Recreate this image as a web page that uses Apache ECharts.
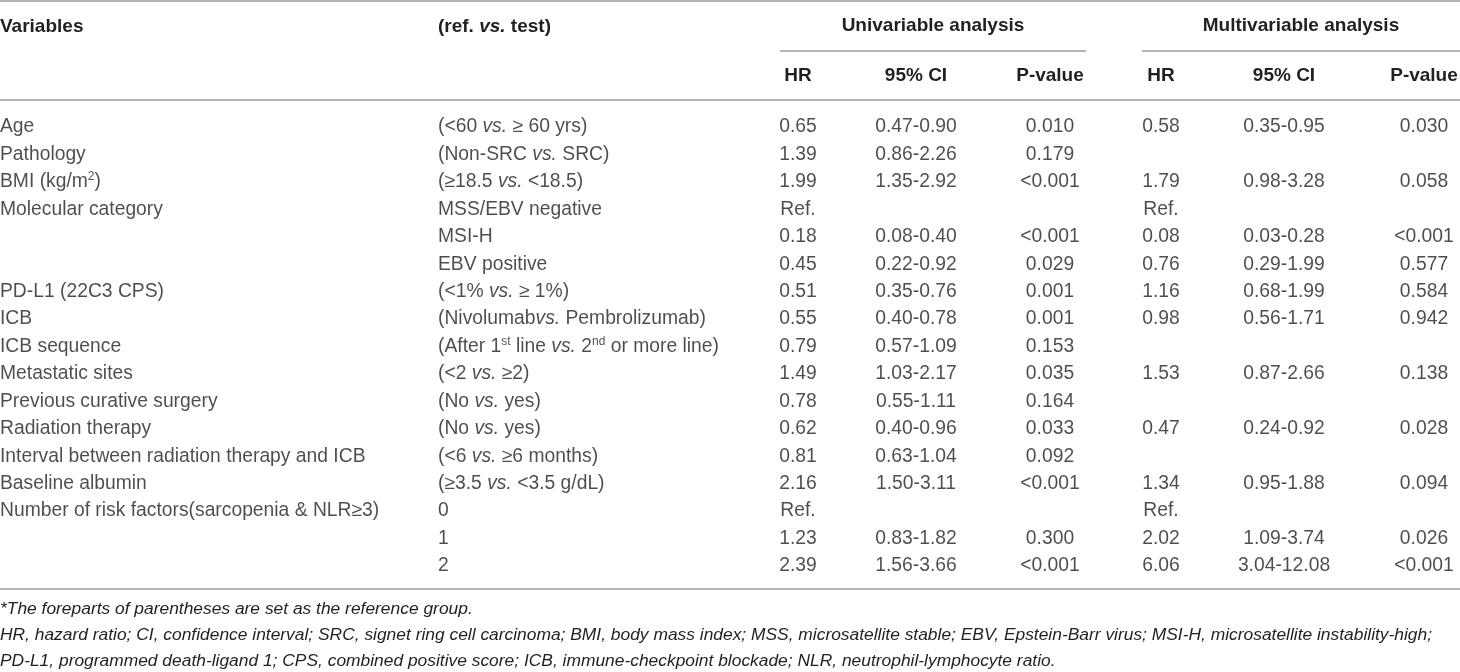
<!DOCTYPE html>
<html>
<head>
<meta charset="utf-8">
<script src="https://cdn.jsdelivr.net/npm/echarts@6/dist/echarts.min.js"></script>
<style>
html,body{margin:0;padding:0;background:#fff;}
#chart{width:1460px;height:672px;}
</style>
</head>
<body>
<div id="chart"></div>
<script>
// ---------- DATA ----------
const variables = ["Age","Pathology","BMI (kg/m^2)","Molecular category","","","PD-L1 (22C3 CPS)","ICB","ICB sequence","Metastatic sites","Previous curative surgery","Radiation therapy","Interval between radiation therapy and ICB","Baseline albumin","Number of risk factors(sarcopenia & NLR≥3)","",""];
const comparisons = ["(<60 vs. ≥ 60 yrs)","(Non-SRC vs. SRC)","(≥18.5 vs. <18.5)","MSS/EBV negative","MSI-H","EBV positive","(<1% vs. ≥ 1%)","(Nivolumabvs. Pembrolizumab)","(After 1^st line vs. 2^nd or more line)","(<2 vs. ≥2)","(No vs. yes)","(No vs. yes)","(<6 vs. ≥6 months)","(≥3.5 vs. <3.5 g/dL)","0","1","2"];
const uniHR = ["0.65","1.39","1.99","Ref.","0.18","0.45","0.51","0.55","0.79","1.49","0.78","0.62","0.81","2.16","Ref.","1.23","2.39"];
const uniCI = ["0.47-0.90","0.86-2.26","1.35-2.92","","0.08-0.40","0.22-0.92","0.35-0.76","0.40-0.78","0.57-1.09","1.03-2.17","0.55-1.11","0.40-0.96","0.63-1.04","1.50-3.11","","0.83-1.82","1.56-3.66"];
const uniP = ["0.010","0.179","<0.001","","<0.001","0.029","0.001","0.001","0.153","0.035","0.164","0.033","0.092","<0.001","","0.300","<0.001"];
const multiHR = ["0.58","","1.79","Ref.","0.08","0.76","1.16","0.98","","1.53","","0.47","","1.34","Ref.","2.02","6.06"];
const multiCI = ["0.35-0.95","","0.98-3.28","","0.03-0.28","0.29-1.99","0.68-1.99","0.56-1.71","","0.87-2.66","","0.24-0.92","","0.95-1.88","","1.09-3.74","3.04-12.08"];
const multiP = ["0.030","","0.058","","<0.001","0.577","0.584","0.942","","0.138","","0.028","","0.094","","0.026","<0.001"];

const groupHeaders = ["Univariable analysis","Multivariable analysis"];
const columnHeaders = ["HR","95% CI","P-value","HR","95% CI","P-value"];
const footnotes = [
  "*The foreparts of parentheses are set as the reference group.",
  "HR, hazard ratio; CI, confidence interval; SRC, signet ring cell carcinoma; BMI, body mass index; MSS, microsatellite stable; EBV, Epstein-Barr virus; MSI-H, microsatellite instability-high;",
  "PD-L1, programmed death-ligand 1; CPS, combined positive score; ICB, immune-checkpoint blockade; NLR, neutrophil-lymphocyte ratio."
];

// ---------- LAYOUT ----------
const W = 1460, H = 672;
const FONT = "'Liberation Sans', Arial, Helvetica, sans-serif";
const TXT = '#231f20';
const RULE = '#9a9a9a';
const FS = 19.3;
const colAnchors = [0, 438, 798, 916, 1050, 1161, 1284, 1424];
const colAlign = ['left','left','center','center','center','center','center','center'];
const firstRowY = 127, rowH = 27.44;
const gridTop = firstRowY - rowH / 2;
const gridBottom = H - (gridTop + rowH * variables.length);

const columns = [variables, comparisons, uniHR, uniCI, uniP, multiHR, multiCI, multiP];

function toRich(s) {
  return s.replace(/vs\./g, '{i|vs.}').replace(/\^(\w+)/g, '{sup|$1}');
}

const rich = {
  i: {fontStyle: 'italic', fontSize: FS, fontFamily: FONT, color: TXT, lineHeight: 22},
  sup: {fontSize: 12, fontFamily: FONT, color: TXT, verticalAlign: 'top', lineHeight: 12}
};

const series = columns.map((col, c) => ({
  type: 'scatter',
  symbolSize: 0,
  silent: true,
  itemStyle: {color: 'transparent'},
  data: col.map((t, i) => ({value: [colAnchors[c], i], txt: t})),
  label: {
    show: true,
    position: colAlign[c] === 'left' ? 'right' : 'inside',
    distance: 0,
    align: colAlign[c],
    verticalAlign: 'middle',
    fontSize: FS,
    fontFamily: FONT,
    color: TXT,
    lineHeight: 22,
    rich: rich,
    formatter: p => toRich(p.data.txt)
  }
}));

// header / rules / footnotes as graphic elements
const boldFont = 'bold 19px ' + FONT;
const graphics = [];
function hline(x1, x2, y) {
  graphics.push({type: 'line', silent: true, shape: {x1, y1: y, x2, y2: y}, style: {stroke: RULE, lineWidth: 1.5}});
}
function htext(text, x, y, align, extra) {
  graphics.push({type: 'text', silent: true, x, y, style: Object.assign({
    text, font: boldFont, fill: TXT, textAlign: align, textVerticalAlign: 'middle'
  }, extra || {})});
}
hline(0, W, 1);
hline(780, 1086, 51);
hline(1142, W, 51);
hline(0, W, 100);
hline(0, W, 589);

htext('Variables', 0, 27, 'left');
htext('{b|(ref. }{bi|vs.}{b| test)}', 438, 27, 'left', {
  rich: {
    b: {font: boldFont, fill: TXT},
    bi: {font: 'italic bold 19px ' + FONT, fill: TXT}
  }
});
htext(groupHeaders[0], 933, 26, 'center');
htext(groupHeaders[1], 1301, 26, 'center');
const headerX = [798, 916, 1050, 1161, 1284, 1424];
columnHeaders.forEach((h, k) => htext(h, headerX[k], 76, 'center'));

const footY = [609, 635, 661];
footnotes.forEach((f, k) => graphics.push({
  type: 'text', silent: true, x: 0, y: footY[k],
  style: {text: f, font: 'italic 17.4px ' + FONT, fill: TXT, textAlign: 'left', textVerticalAlign: 'middle'}
}));

const chart = echarts.init(document.getElementById('chart'), null, {renderer: 'canvas'});
chart.setOption({
  animation: false,
  backgroundColor: '#fff',
  grid: {left: 0, right: 0, top: gridTop, bottom: gridBottom, containLabel: false},
  xAxis: {type: 'value', min: 0, max: W, show: false},
  yAxis: {type: 'category', inverse: true, show: false, data: variables.map((_, i) => i)},
  series: series,
  graphic: graphics
});
</script>
</body>
</html>
